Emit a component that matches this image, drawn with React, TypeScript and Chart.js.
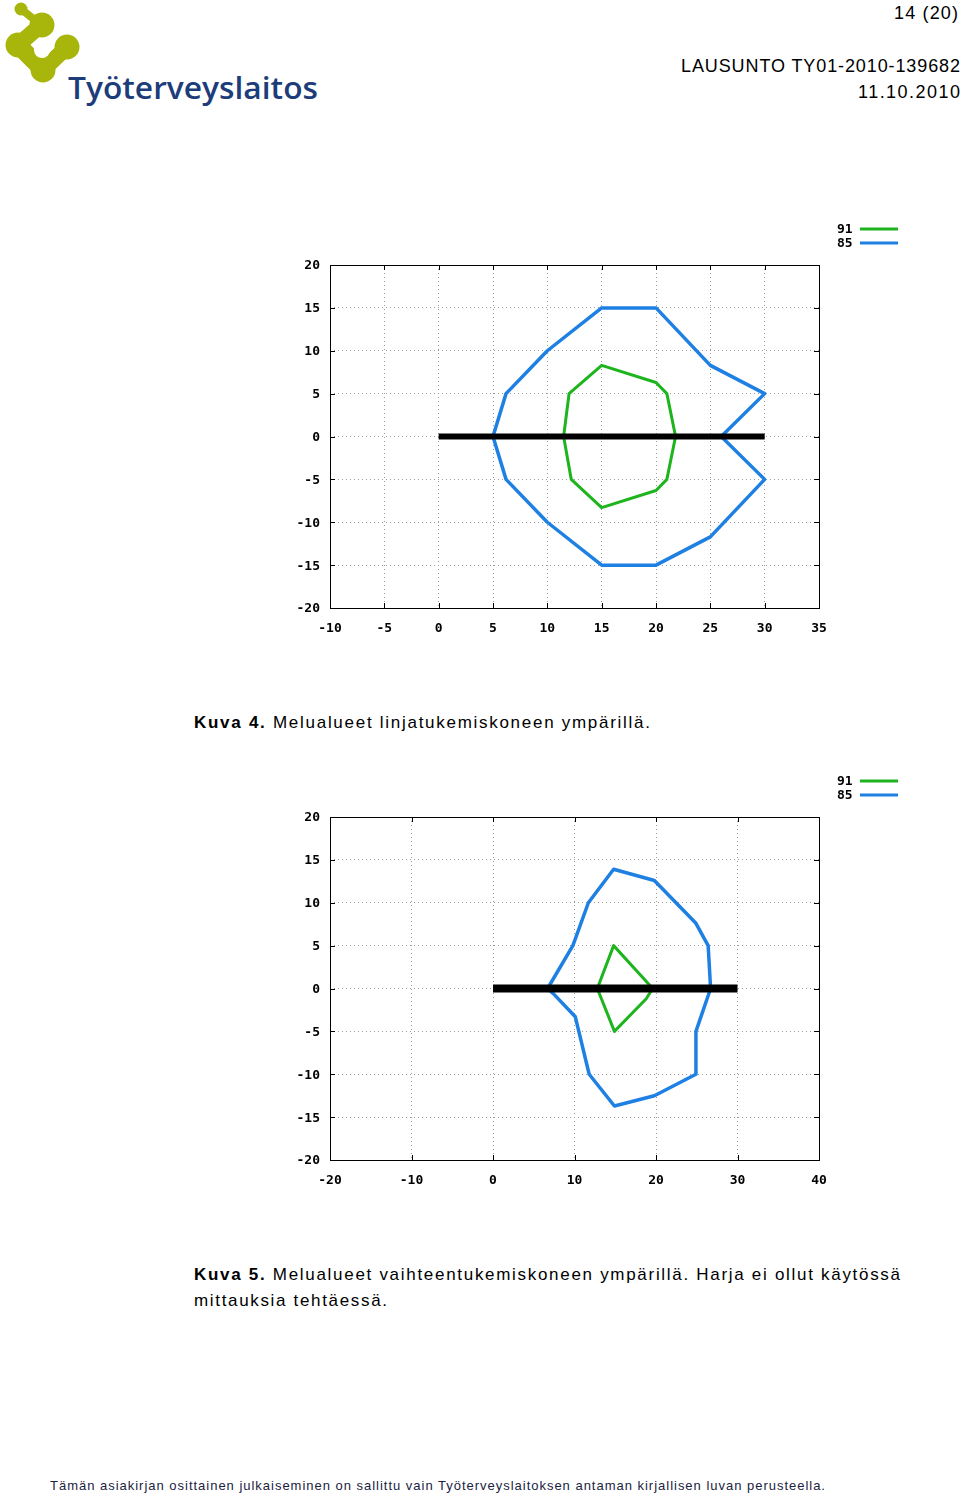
import React, { useEffect, useRef } from 'react';
import { Chart, registerables } from 'chart.js';

Chart.register(...registerables);

// ---------- Kuva 4 data ----------
const k4XTicks = [-10, -5, 0, 5, 10, 15, 20, 25, 30, 35];
const k4YTicks = [-20, -15, -10, -5, 0, 5, 10, 15, 20];
const k4Zone91X = [11.5, 12, 15, 20, 21, 21.8, 21, 20, 15, 12.2, 11.5];
const k4Zone91Y = [0, 5, 8.3, 6.3, 5, 0, -5, -6.3, -8.3, -5, 0];
const k4Zone85X = [5, 6.2, 10, 15, 20, 25, 30, 26, 30, 25, 20, 15, 10, 6.2, 5];
const k4Zone85Y = [0, 5, 10, 15, 15, 8.3, 5, 0, -5, -11.7, -15, -15, -10, -5, 0];
const k4MachineX = [0, 30];
const k4MachineY = [0, 0];

// ---------- Kuva 5 data ----------
const k5XTicks = [-20, -10, 0, 10, 20, 30, 40];
const k5YTicks = [-20, -15, -10, -5, 0, 5, 10, 15, 20];
const k5Zone91X = [12.8, 14.8, 19.6, 18.8, 14.9, 12.8];
const k5Zone91Y = [0, 5, 0, -1.2, -5, 0];
const k5Zone85X = [6.7, 9.8, 11.7, 14.8, 19.8, 24.9, 26.4, 26.7, 24.9, 24.9, 19.8, 14.9, 11.8, 10.1, 7.4, 6.7];
const k5Zone85Y = [0, 5, 10, 13.9, 12.6, 7.6, 5, 0, -5, -10, -12.5, -13.7, -10, -3.3, -0.6, 0];
const k5MachineX = [0, 30];
const k5MachineY = [0, 0];

const legendLabels = ['91', '85'];

const GREEN = '#1eb41e';
const BLUE = '#1e80e2';
const TICK_FONT = { family: '"DejaVu Sans Mono", monospace', size: 13, weight: 'bold' as const };

const toPoints = (xs: number[], ys: number[]) => xs.map((x, i) => ({ x, y: ys[i] }));

const framePlugin = {
  id: 'gnuFrame',
  beforeDatasetsDraw(chart: any) {
    const { ctx, chartArea: a, scales } = chart;
    ctx.save();
    ctx.strokeStyle = '#000';
    ctx.lineWidth = 1;
    ctx.strokeRect(Math.round(a.left) + 0.5, Math.round(a.top) + 0.5, Math.round(a.right - a.left), Math.round(a.bottom - a.top));
    const len = 5;
    ctx.beginPath();
    scales.x.ticks.forEach((t: any) => {
      const px = Math.round(scales.x.getPixelForValue(t.value)) + 0.5;
      ctx.moveTo(px, a.bottom);
      ctx.lineTo(px, a.bottom - len);
      ctx.moveTo(px, a.top);
      ctx.lineTo(px, a.top + len);
    });
    scales.y.ticks.forEach((t: any) => {
      const py = Math.round(scales.y.getPixelForValue(t.value)) + 0.5;
      ctx.moveTo(a.left, py);
      ctx.lineTo(a.left + len, py);
      ctx.moveTo(a.right, py);
      ctx.lineTo(a.right - len, py);
    });
    ctx.stroke();
    ctx.restore();
  },
  afterDraw(chart: any) {
    const { ctx, chartArea: a } = chart;
    const colors = [GREEN, BLUE];
    ctx.save();
    ctx.font = 'bold 13px "DejaVu Sans Mono", monospace';
    ctx.fillStyle = '#000';
    ctx.textBaseline = 'middle';
    legendLabels.forEach((lab, i) => {
      const y = a.top - 36 + i * 14;
      ctx.fillText(lab, a.right + 18, y + 1);
      ctx.strokeStyle = colors[i];
      ctx.lineWidth = 3;
      ctx.beginPath();
      ctx.moveTo(a.right + 41, y);
      ctx.lineTo(a.right + 79, y);
      ctx.stroke();
    });
    ctx.restore();
  },
};

type ZoneProps = {
  xTicks: number[];
  yTicks: number[];
  z91x: number[];
  z91y: number[];
  z85x: number[];
  z85y: number[];
  mx: number[];
  my: number[];
  machineWidth: number;
  top: number;
};

function ZoneChart(p: ZoneProps) {
  const ref = useRef<HTMLCanvasElement>(null);
  useEffect(() => {
    if (!ref.current) return;
    const axisCommon = {
      type: 'linear' as const,
      grid: { color: '#9c9c9c', lineWidth: 1, drawTicks: false },
      border: { display: false, dash: [1, 3] },
    };
    const chart = new Chart(ref.current, {
      type: 'scatter',
      data: {
        datasets: [
          {
            label: 'kone',
            data: toPoints(p.mx, p.my),
            showLine: true,
            borderColor: '#000',
            borderWidth: p.machineWidth,
            borderCapStyle: 'butt',
            pointRadius: 0,
            order: 0,
          },
          {
            label: '91',
            data: toPoints(p.z91x, p.z91y),
            showLine: true,
            borderColor: GREEN,
            borderWidth: 3,
            borderJoinStyle: 'round',
            pointRadius: 0,
            order: 1,
          },
          {
            label: '85',
            data: toPoints(p.z85x, p.z85y),
            showLine: true,
            borderColor: BLUE,
            borderWidth: 3.5,
            borderJoinStyle: 'round',
            pointRadius: 0,
            order: 2,
          },
        ],
      },
      options: {
        responsive: false,
        maintainAspectRatio: false,
        animation: false,
        devicePixelRatio: 1,
        layout: { padding: { left: 0, right: 91, top: 50, bottom: 0 } },
        plugins: { legend: { display: false }, tooltip: { enabled: false } },
        scales: {
          x: {
            ...axisCommon,
            min: p.xTicks[0],
            max: p.xTicks[p.xTicks.length - 1],
            afterBuildTicks: (axis: any) => {
              axis.ticks = p.xTicks.map((value) => ({ value }));
            },
            afterFit: (axis: any) => {
              axis.height = 37;
            },
            ticks: { padding: 13, font: TICK_FONT, color: '#000', autoSkip: false, maxRotation: 0 },
          },
          y: {
            ...axisCommon,
            min: p.yTicks[0],
            max: p.yTicks[p.yTicks.length - 1],
            afterBuildTicks: (axis: any) => {
              axis.ticks = p.yTicks.map((value) => ({ value }));
            },
            afterFit: (axis: any) => {
              axis.width = 50;
            },
            ticks: { padding: 10, labelOffset: 1, font: TICK_FONT, color: '#000', autoSkip: false },
          },
        },
      },
      plugins: [framePlugin],
    } as any);
    return () => chart.destroy();
  }, []);
  return (
    <canvas
      ref={ref}
      width={630}
      height={430}
      style={{ position: 'absolute', left: 280, top: p.top, width: 630, height: 430 }}
    />
  );
}

function Logo() {
  const olive = '#a8b60c';
  return (
    <g>
      <line x1={21} y1={9} x2={41} y2={25} stroke={olive} strokeWidth={8} strokeLinecap="round" />
      <line x1={41} y1={25} x2={18} y2={45} stroke={olive} strokeWidth={16} strokeLinecap="round" />
      <line x1={18} y1={45} x2={43} y2={70} stroke={olive} strokeWidth={18} strokeLinecap="round" />
      <line x1={43} y1={70} x2={67} y2={47} stroke={olive} strokeWidth={16} strokeLinecap="round" />
      <circle cx={21} cy={9} r={6.5} fill={olive} />
      <circle cx={42} cy={25} r={12.5} fill={olive} />
      <circle cx={18} cy={45} r={12.5} fill={olive} />
      <circle cx={67} cy={47} r={12.5} fill={olive} />
      <circle cx={43} cy={70} r={12.5} fill={olive} />
      <circle cx={42} cy={50} r={8} fill="#fff" />
      <text
        x={68}
        y={99}
        textLength={250}
        lengthAdjust="spacingAndGlyphs"
        fill="#1d3c7a"
        style={{ fontFamily: '"Open Sans", "DejaVu Sans", sans-serif', fontSize: 31, fontWeight: 600 }}
      >
        Työterveyslaitos
      </text>
    </g>
  );
}

export default function App() {
  const sans = '"Liberation Sans", Arial, sans-serif';
  return (
    <div
      style={{
        position: 'absolute',
        left: 0,
        top: 0,
        width: 960,
        height: 1498,
        background: '#fff',
        overflow: 'hidden',
      }}
    >
      <svg width={960} height={1498} style={{ position: 'absolute', left: 0, top: 0 }}>
        <Logo />
        <g style={{ fontFamily: sans, fontSize: 18 }} fill="#000">
          <text x={894} y={19} textLength={64} lengthAdjust="spacing">14 (20)</text>
          <text x={681} y={72} textLength={279} lengthAdjust="spacing">LAUSUNTO TY01-2010-139682</text>
          <text x={858} y={98} textLength={102} lengthAdjust="spacing">11.10.2010</text>
        </g>
        <g style={{ fontFamily: sans, fontSize: 17 }} fill="#000">
          <text x={194} y={728} textLength={456} lengthAdjust="spacing">
            <tspan fontWeight="bold">Kuva 4.</tspan> Melualueet linjatukemiskoneen ympärillä.
          </text>
          <text x={194} y={1280} textLength={706} lengthAdjust="spacing">
            <tspan fontWeight="bold">Kuva 5.</tspan> Melualueet vaihteentukemiskoneen ympärillä. Harja ei ollut käytössä
          </text>
          <text x={194} y={1306} textLength={193} lengthAdjust="spacing">mittauksia tehtäessä.</text>
        </g>
        <text
          x={50}
          y={1490}
          textLength={775}
          lengthAdjust="spacing"
          fill="#1a2340"
          style={{ fontFamily: sans, fontSize: 13 }}
        >
          Tämän asiakirjan osittainen julkaiseminen on sallittu vain Työterveyslaitoksen antaman kirjallisen luvan perusteella.
        </text>
      </svg>
      <ZoneChart
        xTicks={k4XTicks}
        yTicks={k4YTicks}
        z91x={k4Zone91X}
        z91y={k4Zone91Y}
        z85x={k4Zone85X}
        z85y={k4Zone85Y}
        mx={k4MachineX}
        my={k4MachineY}
        machineWidth={6}
        top={215}
      />
      <ZoneChart
        xTicks={k5XTicks}
        yTicks={k5YTicks}
        z91x={k5Zone91X}
        z91y={k5Zone91Y}
        z85x={k5Zone85X}
        z85y={k5Zone85Y}
        mx={k5MachineX}
        my={k5MachineY}
        machineWidth={8}
        top={767}
      />
    </div>
  );
}
